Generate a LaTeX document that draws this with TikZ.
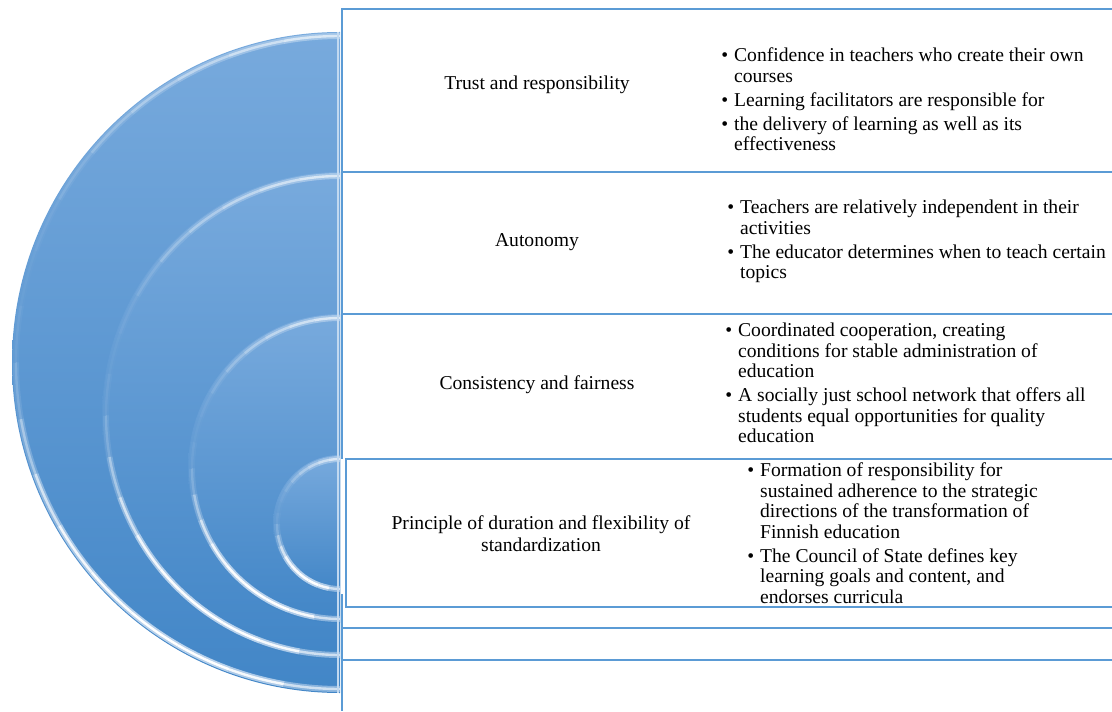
\documentclass[tikz,border=0pt]{standalone}
\usepackage{fontspec}
\setmainfont{Liberation Serif}
\usepackage{tikz}
\usetikzlibrary{calc}
\definecolor{ringtop}{RGB}{120,170,221}
\definecolor{ringbot}{RGB}{66,134,199}
\definecolor{rule}{RGB}{91,155,213}
\tikzstyle{ring}=[top color=ringtop, bottom color=ringbot]
\tikzstyle{glow}=[white!70!ringtop, line width=4.5pt]
\tikzstyle{shine}=[white, line width=1.8pt]
\tikzstyle{frame}=[draw=rule, line width=1.4pt]
\tikzstyle{head}=[inner sep=0pt, align=center, font=\fontsize{14.7pt}{16.3pt}\selectfont]
\tikzstyle{list}=[inner sep=0pt, anchor=base west, font=\fontsize{14.7pt}{15.4pt}\selectfont]
\newcommand{\bul}{\textbullet}

\begin{document}
\begin{tikzpicture}[x=0.75pt, y=0.75pt]
\useasboundingbox (0,0) rectangle (1112,711);

\foreach \cy/\rx/\ry in {348.5/328/330.5, 295.5/238/243.5, 242.5/152/154.5, 187/67/69}{
  \shade[ring] (340,\cy+\ry) arc[start angle=90, end angle=270, x radius=\rx, y radius=\ry] -- cycle;
  \foreach \a/\o in {90/.6, 100/.5, 110/.4, 120/.3, 130/.2, 140/.1, 150/.05, 160/.03, 170/.06,
      180/.15, 190/.35, 200/.6, 210/.85, 220/.95, 230/1, 240/1, 250/.9, 260/.6}{
    \draw[glow, opacity=\o*.8] ([shift={(340,\cy)}]\a:\rx-4 and \ry-4)
      arc[start angle=\a, end angle=\a+10, x radius=\rx-4, y radius=\ry-4];
    \draw[shine, opacity=\o] ([shift={(340,\cy)}]\a:\rx-4 and \ry-4)
      arc[start angle=\a, end angle=\a+10, x radius=\rx-4, y radius=\ry-4];
  }
}
\draw[white!55!ringtop, line width=2pt] (338,18) -- (338,679);

\draw[frame] (1112,702) -- (342,702) -- (342,252);
\draw[frame] (342,117) -- (342,0);
\draw[frame] (342,539) -- (1112,539);
\draw[frame] (342,397) -- (1112,397);
\draw[frame] (1112,252) -- (346,252) -- (346,104) -- (1112,104);
\draw[frame] (342,83) -- (1112,83);
\draw[frame] (342,51) -- (1112,51);

\node[head] (trust) at (537,626) {Trust and responsibility};
\node[head] (autonomy) at (537,469) {Autonomy};
\node[head] (fairness) at (537,326) {Consistency and fairness};
\node[head] (duration) at (541,177) {Principle of duration and flexibility of\\standardization};

\node[list] (trustlist) at (721,649.5) {\begin{tabular}[t]{@{}l@{\hspace{4.5pt}}l@{}}
\bul & Confidence in teachers who create their own\\
 & courses\\[2.6pt]
\bul & Learning facilitators are responsible for\\[2.6pt]
\bul & the delivery of learning as well as its\\
 & effectiveness
\end{tabular}};
\node[list] (autonomylist) at (727,497.5) {\begin{tabular}[t]{@{}l@{\hspace{4.5pt}}l@{}}
\bul & Teachers are relatively independent in their\\
 & activities\\[2.6pt]
\bul & The educator determines when to teach certain\\
 & topics
\end{tabular}};
\node[list] (fairnesslist) at (725,374.5) {\begin{tabular}[t]{@{}l@{\hspace{4.5pt}}l@{}}
\bul & Coordinated cooperation, creating\\
 & conditions for stable administration of\\
 & education\\[2.6pt]
\bul & A socially just school network that offers all\\
 & students equal opportunities for quality\\
 & education
\end{tabular}};
\node[list] (durationlist) at (747,234.5) {\begin{tabular}[t]{@{}l@{\hspace{4.5pt}}l@{}}
\bul & Formation of responsibility for\\
 & sustained adherence to the strategic\\
 & directions of the transformation of\\
 & Finnish education\\[2.6pt]
\bul & The Council of State defines key\\
 & learning goals and content, and\\
 & endorses curricula
\end{tabular}};
\end{tikzpicture}
\end{document}
